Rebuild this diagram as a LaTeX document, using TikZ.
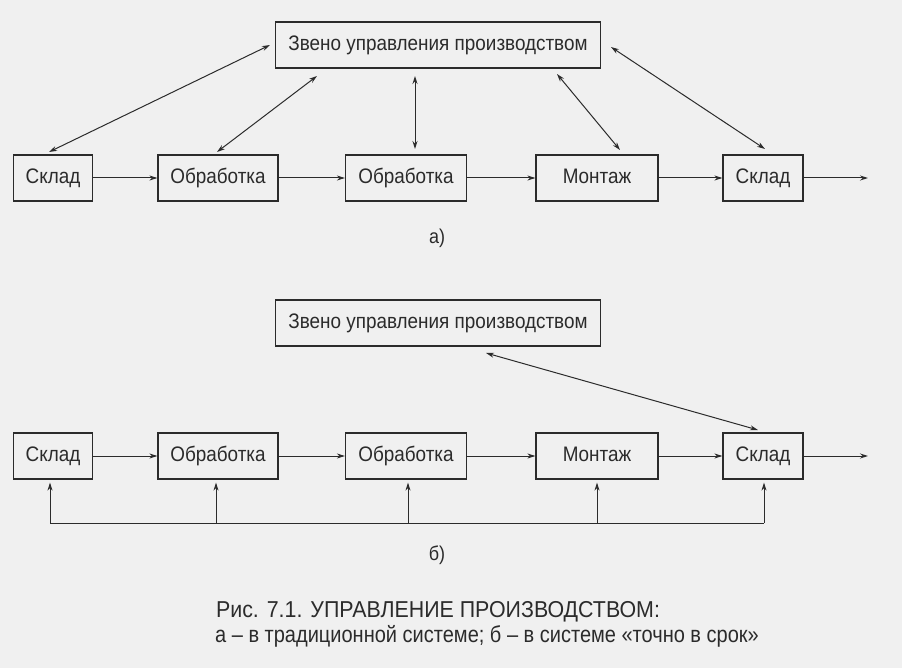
\documentclass[tikz,border=0pt]{standalone}
\usepackage{fontspec}
\setmainfont[FakeStretch=0.9]{Liberation Sans}
\newfontfamily\capA[FakeStretch=0.93]{Liberation Sans}
\newfontfamily\capB[FakeStretch=0.87]{Liberation Sans}
\usetikzlibrary{arrows.meta}
\definecolor{bg}{HTML}{F0F0F0}
\definecolor{ink}{HTML}{2B2B2B}
\begin{document}
\begin{tikzpicture}[x=1pt,y=-1pt,
  box/.style={draw=ink,line width=1.2pt,minimum height=46pt,inner sep=0pt,text height=15pt,text depth=4pt,font=\fontsize{21}{24}\selectfont,text=ink},
  arr/.style={draw=ink,line width=1pt,-{Stealth[length=8pt,width=5pt]}},
  darr/.style={draw=ink,line width=1pt,{Stealth[length=8pt,width=5pt]}-{Stealth[length=8pt,width=5pt]}},
  lbl/.style={text=ink,font=\fontsize{20}{24}\selectfont}]
\fill[bg] (0,0) rectangle (902,668);
\useasboundingbox (0,0) rectangle (902,668);
% ---- a)
\node[box,minimum width=325pt] (Za) at (438,45) {Звено управления производством};
\node[box,minimum width=79pt] (a1) at (53,178) {Склад};
\node[box,minimum width=120pt] (a2) at (218,178) {Обработка};
\node[box,minimum width=121pt] (a3) at (406,178) {Обработка};
\node[box,minimum width=122pt] (a4) at (597,178) {Монтаж};
\node[box,minimum width=80pt] (a5) at (763,178) {Склад};
\coordinate (aout) at (868,178);
\draw[arr] (a1) -- (a2);
\draw[arr] (a2) -- (a3);
\draw[arr] (a3) -- (a4);
\draw[arr] (a4) -- (a5);
\draw[arr] (a5) -- (aout);
\coordinate (za1) at (270,45); \coordinate (a1t) at (49,152);
\coordinate (za2) at (317,76); \coordinate (a2t) at (217,152);
\coordinate (za3) at (415,76); \coordinate (a3t) at (415,149);
\coordinate (za4) at (557,74); \coordinate (a4t) at (620,150);
\coordinate (za5) at (611,47); \coordinate (a5t) at (765,149);
\draw[darr] (za1) -- (a1t);
\draw[darr] (za2) -- (a2t);
\draw[darr] (za3) -- (a3t);
\draw[darr] (za4) -- (a4t);
\draw[darr] (za5) -- (a5t);
\node[lbl] (la) at (437,238) {а)};
% ---- b)
\node[box,minimum width=325pt] (Zb) at (438,323) {Звено управления производством};
\node[box,minimum width=79pt] (b1) at (53,456) {Склад};
\node[box,minimum width=120pt] (b2) at (218,456) {Обработка};
\node[box,minimum width=121pt] (b3) at (406,456) {Обработка};
\node[box,minimum width=122pt] (b4) at (597,456) {Монтаж};
\node[box,minimum width=80pt] (b5) at (763,456) {Склад};
\coordinate (bout) at (868,456);
\draw[arr] (b1) -- (b2);
\draw[arr] (b2) -- (b3);
\draw[arr] (b3) -- (b4);
\draw[arr] (b4) -- (b5);
\draw[arr] (b5) -- (bout);
\coordinate (zb5) at (486,353); \coordinate (b5t) at (758,430);
\draw[darr] (b5t) -- (zb5);
% feedback line
\coordinate (f1) at (50,523); \coordinate (f2) at (216,523); \coordinate (f3) at (408,523);
\coordinate (f4) at (597,523); \coordinate (f5) at (764,523);
\draw[draw=ink,line width=1pt] (f1) -- (f5);
\draw[arr] (f1) -- ([yshift=-3pt]f1 |- b1.south);
\draw[arr] (f2) -- ([yshift=-3pt]f2 |- b2.south);
\draw[arr] (f3) -- ([yshift=-3pt]f3 |- b3.south);
\draw[arr] (f4) -- ([yshift=-3pt]f4 |- b4.south);
\draw[arr] (f5) -- ([yshift=-3pt]f5 |- b5.south);
\node[lbl] (lb) at (437,555) {б)};
% caption
\node[text=ink,font=\capA\fontsize{23}{26}\selectfont] (c1) at (438,612) {Рис. 7.1. УПРАВЛЕНИЕ ПРОИЗВОДСТВОМ:};
\node[text=ink,font=\capB\fontsize{23}{26}\selectfont] (c2) at (487,636) {а – в традиционной системе; б – в системе «точно в срок»};
\end{tikzpicture}
\end{document}
